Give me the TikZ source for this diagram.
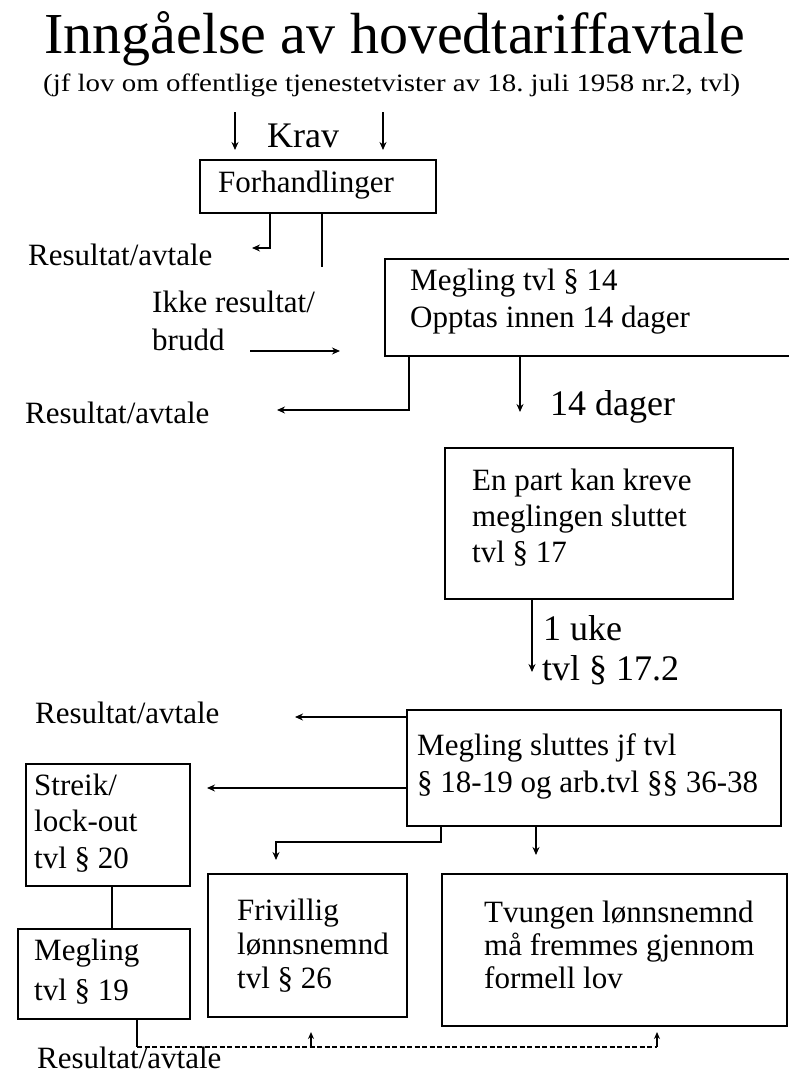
\documentclass[tikz,border=0pt]{standalone}
\usepackage{fontspec}
\setmainfont{Liberation Serif}
\newfontfamily\tnr{Liberation Serif}
\usetikzlibrary{arrows.meta}
\frenchspacing
\tikzset{
  box/.style={draw, line width=1.8pt, inner sep=0pt, anchor=north west},
  txt/.style={anchor=base west, inner sep=0pt, font=\tnr\fontsize{31}{36}\selectfont},
  big/.style={anchor=base west, inner sep=0pt, font=\tnr\fontsize{36}{40}\selectfont},
  conn/.style={line width=1.8pt},
  arr/.style={conn, -{Stealth[length=8pt,width=7pt]}},
  smallarr/.style={line width=1.4pt, -{Stealth[length=7pt,width=6pt]}},
  dashconn/.style={line width=1.4pt, dash pattern=on 5pt off 2.5pt},
}
\begin{document}
\begin{tikzpicture}[x=1pt,y=-1pt]
\useasboundingbox (0,0) rectangle (789,1077);
\fill[white] (0,0) rectangle (789,1077);

% title
\node[anchor=base west, inner sep=0pt, font=\tnr\fontsize{58}{62}\selectfont] (title) at (44,53)
  {Inngåelse av hovedtariffavtale};
\node[anchor=base west, inner sep=0pt, font=\tnr] (subtitle) at (43,91)
  {\resizebox{697pt}{\height}{\tnr\fontsize{25}{28}\selectfont\frenchspacing (jf lov om offentlige tjenestetvister av 18. juli 1958 nr.2, tvl)}};

% Krav
\node[big] (krav) at (267,147) {Krav};
\coordinate (k1a) at (235,112); \coordinate (k1b) at (235,150);
\coordinate (k2a) at (383,112); \coordinate (k2b) at (383,150);
\draw[arr] (k1a) -- (k1b);
\draw[arr] (k2a) -- (k2b);

% Forhandlinger
\node[box, minimum width=236pt, minimum height=53pt] (forh) at (199,159) {};
\node[txt] (forhT) at (218,192) {Forhandlinger};
\node[txt] (res1) at (28,265) {Resultat/avtale};
\coordinate (r1end) at (252,248);
\draw[arr] (270,0 |- forh.south) |- (r1end);
\coordinate (f2end) at (322,267);
\draw[conn] (322,0 |- forh.south) -- (f2end);

% Ikke resultat
\node[txt] (ikke) at (152,312) {\vtop{\baselineskip=38pt\hbox{Ikke resultat/}\hbox{brudd}}};
\coordinate (ia) at (250,351); \coordinate (ib) at (340,351);
\draw[arr] (ia) -- (ib);

% Megling 14
\node[box, minimum width=420pt, minimum height=97pt] (m14) at (384,258) {};
\node[txt] (m14T) at (410,290) {\vtop{\baselineskip=37pt\hbox{Megling tvl § 14}\hbox{Opptas innen 14 dager}}};
\node[txt] (res2) at (25,423) {Resultat/avtale};
\coordinate (r2end) at (277,410);
\draw[arr] (409,0 |- m14.south) |- (r2end);
\coordinate (d14) at (520,412);
\draw[arr] (520,0 |- m14.south) -- (d14);
\node[big] (dager) at (550,415) {14 dager};

% En part
\node[box, minimum width=288pt, minimum height=151pt] (enpart) at (444,447) {};
\node[txt] (enpartT) at (472,490) {\vtop{\baselineskip=36pt\hbox{En part kan kreve}\hbox{meglingen sluttet}\hbox{tvl § 17}}};
\coordinate (uke) at (532,672);
\draw[arr] (532,0 |- enpart.south) -- (uke);
\node[big] (ukeT) at (543,640) {\vtop{\baselineskip=40pt\hbox{1 uke}\hbox{\kern-1pt tvl § 17.2}}};

% Megling sluttes
\node[box, minimum width=374pt, minimum height=116pt] (msl) at (406,709) {};
\node[txt] (mslT) at (417,755) {\vtop{\baselineskip=37pt\hbox{Megling sluttes jf tvl}\hbox{§ 18-19 og arb.tvl §§ 36-38}}};
\node[txt] (res3) at (35,723) {Resultat/avtale};
\coordinate (r3end) at (295,717);
\draw[arr] (msl.west |- r3end) -- (r3end);

% Streik
\node[box, minimum width=164pt, minimum height=122pt] (streik) at (25,763) {};
\node[txt] (streikT) at (34,795) {\vtop{\baselineskip=36.5pt\hbox{Streik/}\hbox{lock-out}\hbox{tvl § 20}}};
\coordinate (sEnd) at (207,788);
\draw[arr] (msl.west |- sEnd) -- (sEnd);

% Megling 19
\node[box, minimum width=172pt, minimum height=90pt] (m19) at (17,928) {};
\node[txt] (m19T) at (34,960) {\vtop{\baselineskip=40pt\hbox{Megling}\hbox{tvl § 19}}};
\draw[conn] (112,0 |- streik.south) -- (112,0 |- m19.north);

% Frivillig
\node[box, minimum width=199pt, minimum height=143pt] (friv) at (207,873) {};
\node[txt] (frivT) at (237,920) {\vtop{\baselineskip=34pt\hbox{Frivillig}\hbox{lønnsnemnd}\hbox{tvl § 26}}};

% Tvungen
\node[box, minimum width=345pt, minimum height=152pt] (tvu) at (441,873) {};
\node[txt] (tvuT) at (484,922) {\vtop{\baselineskip=33pt\hbox{Tvungen lønnsnemnd}\hbox{må fremmes gjennom}\hbox{formell lov}}};

% from Megling sluttes down
\coordinate (fEnd) at (276,860);
\draw[arr] (441,0 |- msl.south) -- (441,842) -| (fEnd);
\coordinate (tEnd) at (536,855);
\draw[arr] (536,0 |- msl.south) -- (tEnd);

% bottom dashed connection
\coordinate (dc) at (137,1047);
\coordinate (dEnd) at (657,1047);
\draw[conn] (137,0 |- m19.south) -- (dc);
\draw[dashconn] (dc) -- (dEnd);
\coordinate (fUp) at (311,1032);
\coordinate (tUp) at (657,1032);
\draw[smallarr] (311,1047) -- (fUp);
\draw[smallarr] (dEnd) -- (tUp);
\node[txt] (res4) at (37,1068) {Resultat/avtale};
\end{tikzpicture}
\end{document}
